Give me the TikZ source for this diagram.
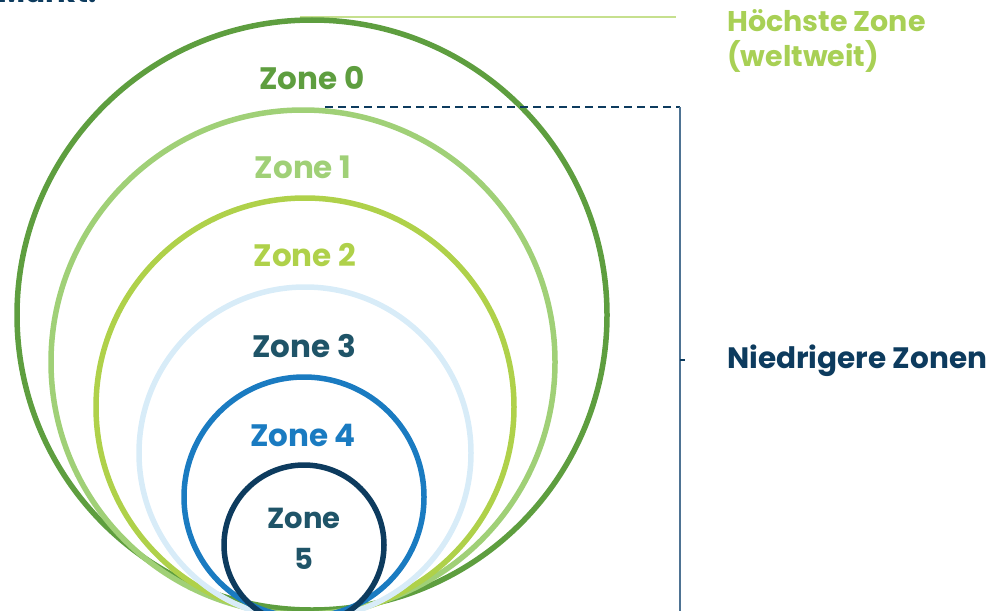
\documentclass[tikz,border=0pt]{standalone}
\usepackage{fontspec}
\setmainfont{Poppins}[BoldFont={Poppins Bold}]
\definecolor{zA}{HTML}{5E9E3F}
\definecolor{zB}{HTML}{A0D077}
\definecolor{zC}{HTML}{AFD14A}
\definecolor{zD}{HTML}{D8ECF8}
\definecolor{zE}{HTML}{1A7BC1}
\definecolor{zF}{HTML}{0D3B5E}
\definecolor{zT}{HTML}{1F5468}
\definecolor{navy}{HTML}{0D3B5E}
\definecolor{brk}{HTML}{4E7393}
\definecolor{hline}{HTML}{C6E08E}
\definecolor{hz}{HTML}{A8D055}
\begin{document}
\begin{tikzpicture}[x=1pt,y=-1pt,
  ring/.style={line width=5.5pt},
  zlab/.style={font=\bfseries\fontsize{31}{36}\selectfont, inner sep=0pt, anchor=center},
  side/.style={font=\bfseries\fontsize{29.5}{34}\selectfont, inner sep=0pt}]
\useasboundingbox (0,0) rectangle (1000,610);
% partial text at top (cut off by the page edge as in the reference)
\node[side, text=navy, anchor=base west] (mk) at (-2,2.5) {Markt.};
% top line
\coordinate (hl) at (300,17);
\coordinate (hr) at (676,17);
\draw[hline, line width=1.5pt] (hl) -- (hr);
% circles
\draw[ring, zA] (312,315) circle[radius=295];
\draw[ring, zB] (303,362) circle[radius=252];
\draw[ring, zC] (305,407) circle[radius=209];
\draw[ring, zD] (305,453) circle[radius=166];
\draw[ring, zE] (304,497) circle[radius=120];
\draw[ring, zF] (304,545) circle[radius=80];
% bracket
\coordinate (bt) at (680,107);
\coordinate (bs) at (325,107);
\coordinate (bb) at (680,615);
\coordinate (tk) at (680,360);
\coordinate (tk2) at (685,360);
\draw[navy, line width=1.2pt, dash pattern=on 8pt off 5pt] (bs) -- (bt);
\draw[brk, line width=1.6pt] (bt) -- (bb);
\draw[navy, line width=1.6pt] (tk) -- (tk2);
% zone labels
\node[zlab, text=zA] (z0) at (312,78) {Zone 0};
\node[zlab, text=zB] (z1) at (303,167) {Zone 1};
\node[zlab, text=zC] (z2) at (305,255) {Zone 2};
\node[zlab, text=zT] (z3) at (304,346) {Zone 3};
\node[zlab, text=zE] (z4) at (303,435) {Zone 4};
\node[zlab, text=zT, align=center, font=\bfseries\fontsize{29}{41}\selectfont] (z5) at (304,539) {Zone\\5};
% side labels
\node[side, text=hz, anchor=north west, align=left, font=\bfseries\fontsize{28.5}{35}\selectfont] (hoch) at (727,9) {Höchste Zone\\(weltweit)};
\node[side, text=navy, anchor=west] (nied) at (727,361) {Niedrigere Zonen};
\end{tikzpicture}
\end{document}
